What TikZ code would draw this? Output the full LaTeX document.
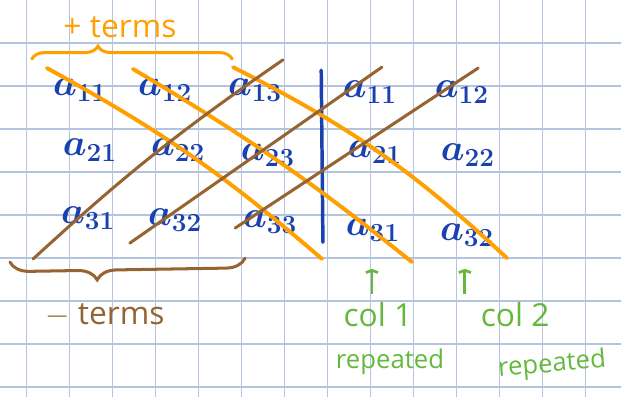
\documentclass[tikz,border=0pt]{standalone}
\usepackage{amsmath}
\usepackage{xcolor}
\usepackage{fontspec}
\setmainfont{Open Sans}
\usepackage{tikz}
\usetikzlibrary{arrows.meta,decorations.pathreplacing}
\definecolor{entryBlue}{RGB}{25,65,175}
\definecolor{plusOrange}{RGB}{255,160,0}
\definecolor{minusBrown}{RGB}{150,100,50}
\definecolor{noteGreen}{RGB}{100,185,60}
\definecolor{gridBlue}{RGB}{180,195,222}

\begin{document}
\begin{tikzpicture}[
  entry/.style={text=entryBlue, inner sep=0pt, font=\fontsize{27}{27}\selectfont\boldmath},
  note/.style={inner sep=0pt, font=\fontsize{21}{21}\selectfont}]
\useasboundingbox (0,0) rectangle (14.442,9.233);
% squared paper
\foreach \gx in {0,...,13}
  \draw[gridBlue, line width=0.7pt] (0.62+\gx,0) -- (0.62+\gx,9.233);
\foreach \gy in {0,...,8}
  \draw[gridBlue, line width=0.7pt] (0,0.233+\gy) -- (14.442,0.233+\gy);

% the matrix
\node[entry] (a11) at (1.86,7.14) {$a_{11}$};
\node[entry] (a12) at (3.84,7.14) {$a_{12}$};
\node[entry] (a13) at (5.93,7.14) {$a_{13}$};
\node[entry] (a21) at (2.09,5.74) {$a_{21}$};
\node[entry] (a22) at (4.14,5.74) {$a_{22}$};
\node[entry] (a23) at (6.23,5.63) {$a_{23}$};
\node[entry] (a31) at (2.05,4.16) {$a_{31}$};
\node[entry] (a32) at (4.07,4.12) {$a_{32}$};
\node[entry] (a33) at (6.28,4.07) {$a_{33}$};
% repeated columns
\node[entry] (r11) at (8.60,7.09) {$a_{11}$};
\node[entry] (r12) at (10.74,7.09) {$a_{12}$};
\node[entry] (r21) at (8.72,5.70) {$a_{21}$};
\node[entry] (r22) at (10.88,5.63) {$a_{22}$};
\node[entry] (r31) at (8.67,3.88) {$a_{31}$};
\node[entry] (r32) at (10.86,3.77) {$a_{32}$};

\coordinate (divtop) at (7.47,7.60);
\coordinate (divbot) at (7.51,3.60);
\draw[entryBlue, line width=2.3pt, line cap=round] (divtop) -- (divbot);

% + diagonals
\coordinate (p1s) at (1.09,7.65);
\coordinate (p1e) at (7.49,3.21);
\coordinate (p2s) at (3.09,7.63);
\coordinate (p2e) at (9.58,3.14);
\coordinate (p3s) at (5.42,7.67);
\coordinate (p3e) at (11.79,3.23);
\draw[plusOrange, line width=2.6pt, line cap=round] (p1s) to[bend left=6] (p1e);
\draw[plusOrange, line width=2.6pt, line cap=round] (p2s) to[bend left=4] (p2e);
\draw[plusOrange, line width=2.6pt, line cap=round] (p3s) to[bend left=8] (p3e);

% - diagonals
\coordinate (m1s) at (0.77,3.21);
\coordinate (m1e) at (6.58,7.84);
\coordinate (m2s) at (3.02,3.58);
\coordinate (m2e) at (8.88,7.67);
\coordinate (m3s) at (5.47,3.93);
\coordinate (m3e) at (11.12,7.65);
\draw[minusBrown, line width=2pt, line cap=round] (m1s) to[bend left=4] (m1e);
\draw[minusBrown, line width=2pt, line cap=round] (m2s) -- (m2e);
\draw[minusBrown, line width=2pt, line cap=round] (m3s) -- (m3e);

% braces
\coordinate (pbl) at (0.74,7.86);
\coordinate (pbr) at (5.40,7.86);
\draw[plusOrange, line width=2pt, line cap=round,
  decorate, decoration={brace, amplitude=0.3cm, aspect=0.33}] (pbl) -- (pbr);
\node[note, text=plusOrange] (plusLbl) at (2.79,8.6) {+ terms};

\coordinate (mbr) at (5.70,3.23);
\coordinate (mbl) at (0.23,3.14);
\draw[minusBrown, line width=2pt, line cap=round,
  decorate, decoration={brace, amplitude=0.45cm, aspect=0.63}] (mbr) -- (mbl);
\node[note, text=minusBrown] (minusLbl) at (2.44,1.91) {$-$ terms};

% notes
\node[note, text=noteGreen] (colOne) at (8.79,1.91) {col 1};
\node[note, text=noteGreen] (colTwo) at (11.98,1.91) {col 2};
\node[note, text=noteGreen, font=\fontsize{17}{17}\selectfont] (repOne) at (9.07,0.81) {repeated};
\node[note, text=noteGreen, font=\fontsize{17}{17}\selectfont, rotate=5] (repTwo) at (12.84,0.74) {repeated};
\coordinate (upOne) at (8.65,2.98);
\coordinate (upTwo) at (10.81,2.98);
\draw[noteGreen, line width=1.8pt, -{Straight Barb[length=1.5pt,width=8pt]}] (upOne |- colOne.north) ++(0,0.2) -- (upOne);
\draw[noteGreen, line width=1.8pt, -{Straight Barb[length=1.5pt,width=8pt]}] (upTwo |- colTwo.north) ++(0,0.2) -- (upTwo);
\end{tikzpicture}
\end{document}
